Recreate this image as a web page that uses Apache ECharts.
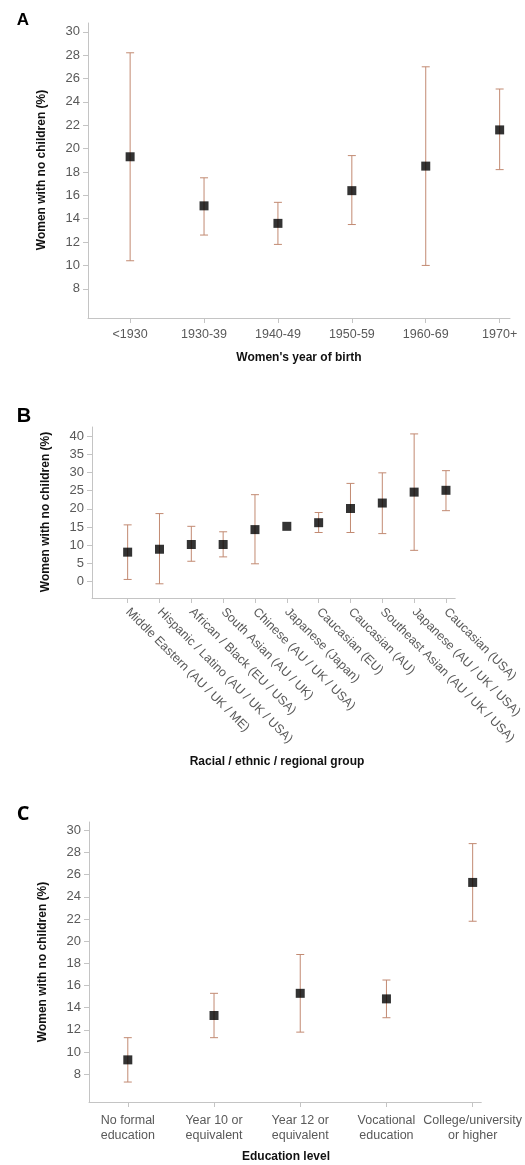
<!DOCTYPE html>
<html>
<head>
<meta charset="utf-8">
<script src="https://cdn.jsdelivr.net/npm/echarts@6/dist/echarts.min.js"></script>
<style>
html,body{margin:0;padding:0;background:#fff;}
#chart{width:525px;height:1165px;}
</style>
</head>
<body>
<div id="chart"></div>
<script>
// Panel A: women's year of birth
const birthCats = ['<1930', '1930-39', '1940-49', '1950-59', '1960-69', '1970+'];
const birthMean = [19.3, 15.1, 13.6, 16.4, 18.5, 21.6];
const birthLow  = [10.4, 12.6, 11.8, 13.5, 10.0, 18.2];
const birthHigh = [28.2, 17.5, 15.4, 19.4, 27.0, 25.1];
const yTicksA = [8, 10, 12, 14, 16, 18, 20, 22, 24, 26, 28, 30];

// Panel B: racial / ethnic / regional group
const groupCats = ['Middle Eastern (AU / UK / ME)', 'Hispanic / Latino (AU / UK / USA)', 'African / Black (EU / USA)',
  'South Asian (AU / UK)', 'Chinese (AU / UK / USA)', 'Japanese (Japan)', 'Caucasian (EU)', 'Caucasian (AU)',
  'Southeast Asian (AU / UK / USA)', 'Japanese (AU / UK / USA)', 'Caucasian (USA)'];
const groupMean = [8.1, 8.9, 10.2, 10.2, 14.3, 15.2, 16.2, 20.1, 21.6, 24.6, 25.1];
const groupLow  = [0.6, -0.6, 5.6, 6.8, 4.9, null, 13.5, 13.5, 13.2, 8.6, 19.5];
const groupHigh = [15.6, 18.7, 15.2, 13.7, 23.9, null, 19.0, 27.0, 29.9, 40.6, 30.5];
const yTicksB = [0, 5, 10, 15, 20, 25, 30, 35, 40];

// Panel C: education level
const eduCats = ['No formal\neducation', 'Year 10 or\nequivalent', 'Year 12 or\nequivalent', 'Vocational\neducation', 'College/university\nor higher'];
const eduMean = [9.3, 13.3, 15.3, 14.8, 25.3];
const eduLow  = [7.3, 11.3, 11.8, 13.1, 21.8];
const eduHigh = [11.3, 15.3, 18.8, 16.5, 28.8];
const yTicksC = [8, 10, 12, 14, 16, 18, 20, 22, 24, 26, 28, 30];

const FONT = '"Liberation Sans", Arial, sans-serif';
const AXIS_COLOR = '#c4c4c4';
const LABEL_COLOR = '#595959';
const ERR_COLOR = '#c28a72';

const chart = echarts.init(document.getElementById('chart'), null, {renderer: 'canvas'});

function idx(arr) { return arr.map((_, i) => i); }

function xAxisDef(gridIndex, cats, min, max, labelExtra) {
  return {
    type: 'value', gridIndex, min, max,
    splitLine: {show: false},
    axisLine: {show: true, onZero: false, lineStyle: {color: AXIS_COLOR, width: 1}},
    axisTick: {show: true, length: 5, lineStyle: {color: AXIS_COLOR}, customValues: idx(cats)},
    axisLabel: Object.assign({
      customValues: idx(cats),
      formatter: v => cats[Math.round(v)] || '',
      color: LABEL_COLOR, fontSize: 12.5, fontFamily: FONT, margin: 10
    }, labelExtra || {})
  };
}

function yAxisDef(gridIndex, ticks, min, max) {
  return {
    type: 'value', gridIndex, min, max,
    splitLine: {show: false},
    axisLine: {show: true, onZero: false, lineStyle: {color: AXIS_COLOR, width: 1}},
    axisTick: {show: true, length: 5, lineStyle: {color: AXIS_COLOR}, customValues: ticks},
    axisLabel: {customValues: ticks, color: LABEL_COLOR, fontSize: 13, fontFamily: FONT, margin: 8}
  };
}

function errSeries(axisIndex, low, high) {
  const data = low.map((l, i) => [i, l, high[i]]).filter(d => d[1] !== null && d[2] !== null);
  return {
    type: 'custom', xAxisIndex: axisIndex, yAxisIndex: axisIndex,
    data, clip: false, z: 2,
    renderItem: function (params, api) {
      const x = api.value(0);
      const lo = api.coord([x, api.value(1)]);
      const hi = api.coord([x, api.value(2)]);
      const cap = 4;
      const style = {stroke: ERR_COLOR, lineWidth: 1};
      return {
        type: 'group',
        children: [
          {type: 'line', shape: {x1: lo[0], y1: lo[1], x2: hi[0], y2: hi[1]}, style},
          {type: 'line', shape: {x1: lo[0] - cap, y1: lo[1], x2: lo[0] + cap, y2: lo[1]}, style},
          {type: 'line', shape: {x1: hi[0] - cap, y1: hi[1], x2: hi[0] + cap, y2: hi[1]}, style}
        ]
      };
    }
  };
}

function pointSeries(axisIndex, mean) {
  return {
    type: 'scatter', xAxisIndex: axisIndex, yAxisIndex: axisIndex,
    data: mean.map((m, i) => [i, m]),
    symbol: 'rect', symbolSize: 9, z: 3,
    itemStyle: {color: '#000'},
    emphasis: {disabled: true}
  };
}

function txt(text, x, y, opts) {
  return {
    type: 'text', x, y, rotation: (opts && opts.rotation) || 0,
    style: Object.assign({
      text, fill: '#111', font: 'bold 12px ' + FONT, textAlign: 'center', textVerticalAlign: 'middle'
    }, (opts && opts.style) || {})
  };
}

const option = {
  animation: false,
  backgroundColor: '#fff',
  grid: [
    {left: 88, top: 23, width: 422, height: 295},
    {left: 92, top: 427, width: 371, height: 171},
    {left: 89, top: 822, width: 393, height: 280}
  ],
  xAxis: [
    xAxisDef(0, birthCats, -0.57, 5.14),
    xAxisDef(1, groupCats, -1.12, 10.29, {rotate: -45, margin: 12, padding: [9, 0, 0, 0], fontSize: 12.5}),
    xAxisDef(2, eduCats, -0.45, 4.1, {lineHeight: 15, margin: 11})
  ],
  yAxis: [
    yAxisDef(0, yTicksA, 5.5, 30.75),
    yAxisDef(1, yTicksB, -4.5, 42.5),
    yAxisDef(2, yTicksC, 5.5, 30.75)
  ],
  series: [
    errSeries(0, birthLow, birthHigh), pointSeries(0, birthMean),
    errSeries(1, groupLow, groupHigh), pointSeries(1, groupMean),
    errSeries(2, eduLow, eduHigh), pointSeries(2, eduMean)
  ],
  graphic: [
    txt('A', 23, 20, {style: {font: 'bold 17px ' + FONT, fill: '#000'}}),
    txt('B', 24, 416, {style: {font: 'bold 20px ' + FONT, fill: '#000'}}),
    txt('C', 23, 814, {style: {font: 'bold 20px "Open Sans", ' + FONT, fill: '#000'}}),
    txt('Women with no children (%)', 42, 170, {rotation: Math.PI / 2}),
    txt("Women's year of birth", 299, 358),
    txt('Women with no children (%)', 46, 512, {rotation: Math.PI / 2}),
    txt('Racial / ethnic / regional group', 277, 762),
    txt('Women with no children (%)', 43, 962, {rotation: Math.PI / 2}),
    txt('Education level', 286, 1157)
  ]
};

chart.setOption(option);
</script>
</body>
</html>
